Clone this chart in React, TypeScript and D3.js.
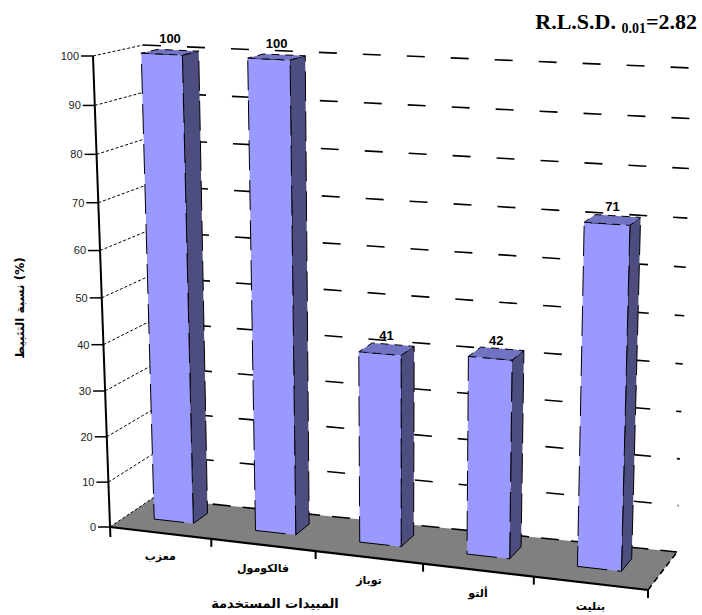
import React from 'react';
import * as d3 from 'd3';

const categories = ["معزب", "فالكومول", "توباز", "ألتو", "بنليت"];
const values = [100, 100, 41, 42, 71];
const yTicks = [0, 10, 20, 30, 40, 50, 60, 70, 80, 90, 100];
const yTitle = "نسبة التثبيط (%)";
const xTitle = "المبيدات المستخدمة";

type P = [number, number];

function homography(src: P[], dst: P[]) {
  const A: number[][] = [];
  for (let i = 0; i < 4; i++) {
    const [u, v] = src[i];
    const [x, y] = dst[i];
    A.push([u, v, 1, 0, 0, 0, -u * x, -v * x, x]);
    A.push([0, 0, 0, u, v, 1, -u * y, -v * y, y]);
  }
  const n = 8;
  for (let c = 0; c < n; c++) {
    let piv = c;
    for (let r = c + 1; r < n; r++) if (Math.abs(A[r][c]) > Math.abs(A[piv][c])) piv = r;
    [A[c], A[piv]] = [A[piv], A[c]];
    for (let r = 0; r < n; r++) {
      if (r === c) continue;
      const f = A[r][c] / A[c][c];
      for (let k = c; k <= n; k++) A[r][k] -= f * A[c][k];
    }
  }
  const h = A.map((row, i) => row[n] / row[i]);
  return (u: number, v: number): P => {
    const w = h[6] * u + h[7] * v + 1;
    return [(h[0] * u + h[1] * v + h[2]) / w, (h[3] * u + h[4] * v + h[5]) / w];
  };
}

const unit: P[] = [[0, 0], [1, 0], [0, 1], [1, 1]];
const front = homography(unit, [[110, 527], [648, 590], [93, 56], [662, 84]]);
const back = homography(unit, [[153, 498], [677, 552], [143, 45], [692, 68]]);

const xs = d3.scaleLinear().domain([0, categories.length]).range([0, 1]);
const ys = d3.scaleLinear().domain([0, 100]).range([0, 1]);

function proj(X: number, Y: number, Z: number): P {
  const f = front(xs(X), ys(Y));
  const b = back(xs(X), ys(Y));
  return [f[0] + (b[0] - f[0]) * Z, f[1] + (b[1] - f[1]) * Z];
}

const poly = (pts: P[]) => pts.map(p => p.join(',')).join(' ');

const BX0 = 0.28, BX1 = 0.67, BZ0 = 0.38, BZ1 = 0.72;

export default function App() {
  const nC = categories.length;
  const floor = [proj(0, 0, 0), proj(nC, 0, 0), proj(nC, 0, 1), proj(0, 0, 1)];
  const axisTop = proj(0, 100, 0);
  const axisBot = proj(0, 0, 0);
  return (
    <svg width={702} height={615} style={{ position: 'absolute', left: 0, top: 0, background: '#fff' }}>
      <polygon points={poly(floor)} fill="#808080" />
      {yTicks.filter(t => t > 0).map(t => {
        const a = proj(0, t, 0), b = proj(0, t, 1);
        return <line key={'s' + t} x1={a[0]} y1={a[1]} x2={b[0]} y2={b[1]} stroke="#000" strokeWidth={1} strokeDasharray="3,2" />;
      })}
      {yTicks.filter(t => t > 0).map(t => {
        const a = proj(0, t, 1), b = proj(nC, t, 1);
        return <line key={'b' + t} x1={a[0]} y1={a[1]} x2={b[0]} y2={b[1]} stroke="#000" strokeWidth={1.6} strokeDasharray="18,26" />;
      })}
      <line x1={floor[3][0]} y1={floor[3][1]} x2={floor[2][0]} y2={floor[2][1]} stroke="#000" strokeWidth={1.6} strokeDasharray="18,12" />
      <line x1={floor[1][0]} y1={floor[1][1]} x2={floor[2][0]} y2={floor[2][1]} stroke="#000" strokeWidth={1.6} strokeDasharray="6,4" />
      <line x1={floor[0][0]} y1={floor[0][1]} x2={floor[3][0]} y2={floor[3][1]} stroke="#000" strokeWidth={1} strokeDasharray="3,2" />
      <line x1={floor[0][0]} y1={floor[0][1]} x2={floor[1][0]} y2={floor[1][1]} stroke="#000" strokeWidth={2.2} />
      {values.map((v, i) => {
        const x0 = i + BX0, x1 = i + BX1;
        const fr = [proj(x0, 0, BZ0), proj(x1, 0, BZ0), proj(x1, v, BZ0), proj(x0, v, BZ0)];
        const sd = [proj(x1, 0, BZ0), proj(x1, 0, BZ1), proj(x1, v, BZ1), proj(x1, v, BZ0)];
        const tp = [proj(x0, v, BZ0), proj(x1, v, BZ0), proj(x1, v, BZ1), proj(x0, v, BZ1)];
        const lab = proj(i + (BX0 + BX1) / 2, v, (BZ0 + BZ1) / 2);
        return (
          <g key={'bar' + i}>
            <polygon points={poly(sd)} fill="#4D4D80" stroke="#000" strokeWidth={1} strokeDasharray="30,10" />
            <polygon points={poly(fr)} fill="#9999FF" stroke="#000" strokeWidth={1} strokeDasharray="30,10" />
            <polygon points={poly(tp)} fill="#7373C4" stroke="#000" strokeWidth={1} strokeDasharray="8,6" />
            <text x={lab[0]} y={lab[1] - 9} textAnchor="middle" fontFamily="Liberation Sans, Arial" fontWeight="bold" fontSize={13} fill="#000">{v}</text>
          </g>
        );
      })}
      <line x1={axisTop[0]} y1={axisTop[1]} x2={axisBot[0] + 0.4} y2={axisBot[1] + 10} stroke="#000" strokeWidth={2} />
      {yTicks.map(t => {
        const p = proj(0, t, 0);
        return (
          <g key={'yt' + t}>
            <line x1={p[0] - 12} y1={p[1]} x2={p[0]} y2={p[1]} stroke="#000" strokeWidth={1.5} />
            <text x={p[0] - 14} y={p[1]} dy="0.35em" textAnchor="end" fontFamily="Liberation Sans, Arial" fontSize={11} fill="#222">{t}</text>
          </g>
        );
      })}
      {d3.range(1, nC + 1).map(k => {
        const p = proj(k, 0, 0);
        return <line key={'xt' + k} x1={p[0]} y1={p[1]} x2={p[0]} y2={p[1] + 8} stroke="#000" strokeWidth={2} />;
      })}
      {categories.map((c, i) => {
        const p = proj(i + 0.5, 0, 0);
        return <text key={'c' + i} x={p[0]} y={p[1] + 23} dy="0.35em" textAnchor="middle" fontFamily="DejaVu Sans" fontWeight="bold" fontSize={11} fill="#000">{c}</text>;
      })}
      <text x={275} y={603} dy="0.35em" textAnchor="middle" fontFamily="DejaVu Sans" fontWeight="bold" fontSize={13} fill="#000">{xTitle}</text>
      <text transform="translate(20,308) rotate(-90)" textAnchor="middle" dy="0.35em" fontFamily="DejaVu Sans" fontWeight="bold" fontSize={12} fill="#000">{yTitle}</text>
      <text x={697} y={29} textAnchor="end" fontFamily="Liberation Serif, Times New Roman" fontWeight="bold" fontSize={22} fill="#000">
        R.L.S.D. <tspan fontSize={14} dy={4}>0.01</tspan><tspan dy={-4}>=2.82</tspan>
      </text>
    </svg>
  );
}
